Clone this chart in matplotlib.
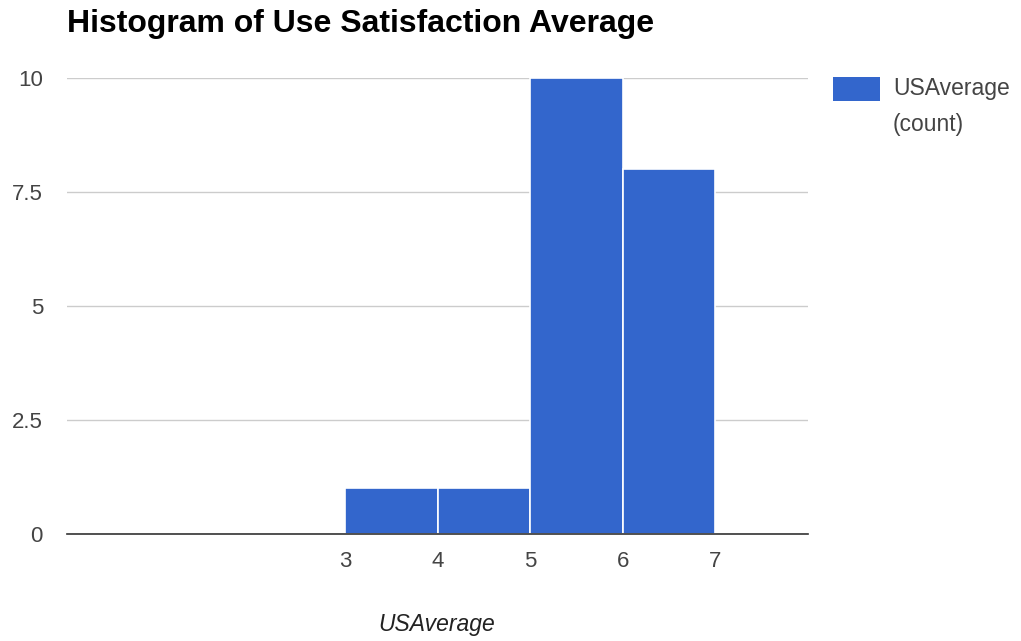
import matplotlib
matplotlib.use("Agg")
import matplotlib.pyplot as plt
from matplotlib.patches import Rectangle

plt.rcParams['font.family'] = ['Liberation Sans', 'DejaVu Sans']

bin_edges = [3, 4, 5, 6, 7]
counts = [1, 1, 10, 8]
y_ticks = [0, 2.5, 5, 7.5, 10]
y_tick_labels = ["0", "2.5", "5", "7.5", "10"]
x_ticks = [3, 4, 5, 6, 7]
title = "Histogram of Use Satisfaction Average"
legend_lines = ["USAverage", "(count)"]
x_label = "USAverage"

bar_color = "#3366cc"
text_color = "#444444"
W, H = 1021, 641

fig = plt.figure(figsize=(W / 100, H / 100), dpi=100)
ax = fig.add_axes([67 / W, 1 - 534 / H, (808 - 67) / W, (534 - 78) / H])

lefts = bin_edges[:-1]
widths = [b - a for a, b in zip(bin_edges[:-1], bin_edges[1:])]
ax.bar(lefts, counts, width=widths, align='edge', color=bar_color,
       edgecolor='white', linewidth=1.2, zorder=3)

ax.set_xlim(0, 8)
ax.set_ylim(0, 10)
ax.set_yticks(y_ticks)
ax.set_yticklabels(y_tick_labels)
ax.set_xticks(x_ticks)
ax.set_xticklabels([str(t) for t in x_ticks])
ax.tick_params(axis='both', length=0, labelsize=16, labelcolor=text_color)
ax.tick_params(axis='y', pad=17.3)
ax.tick_params(axis='x', pad=12)

ax.yaxis.grid(True, color='#cccccc', linewidth=1, zorder=0)
ax.xaxis.grid(False)
for side in ('top', 'right', 'left'):
    ax.spines[side].set_visible(False)
ax.spines['bottom'].set_color('#333333')
ax.spines['bottom'].set_linewidth(1.2)
ax.spines['bottom'].set_zorder(4)

fig.text(437 / W, 1 - 625 / H, x_label, fontsize=16.5, style='italic',
         color='#222222', ha='center', va='center')

fig.text(67 / W, 1 - 24 / H, title, fontsize=23, fontweight='bold',
         color='black', ha='left', va='center')

# legend swatch and label
fig.patches.append(Rectangle((833 / W, 1 - 101 / H), 47 / W, 24 / H,
                             transform=fig.transFigure, facecolor=bar_color,
                             edgecolor='none'))
for i, line in enumerate(legend_lines):
    fig.text(893 / W, 1 - (89 + 35 * i) / H, line, fontsize=16.5,
             color=text_color, ha='left', va='center')

fig.savefig("out.png", dpi=100)
